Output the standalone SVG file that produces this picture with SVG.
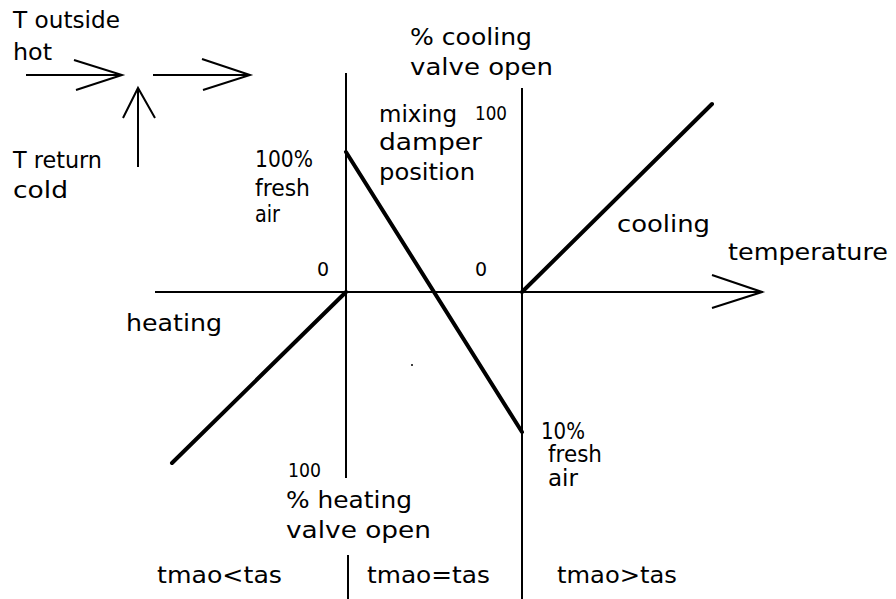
<svg xmlns="http://www.w3.org/2000/svg" width="896" height="599" viewBox="0 0 896 599">
<style>
text{font-family:"DejaVu Sans","Liberation Sans",sans-serif;font-size:23px;fill:#000}
.n{font-size:19px}
.thin{stroke:#000;stroke-width:2;fill:none}
.thick{stroke:#000;stroke-width:4;fill:none;stroke-linecap:round}
</style>
<rect width="896" height="599" fill="#fff"/>
<g id="inset">
<text x="13" y="28" textLength="107" lengthAdjust="spacingAndGlyphs">T outside</text>
<text x="13" y="60" textLength="39" lengthAdjust="spacingAndGlyphs">hot</text>
<text x="13" y="168" textLength="89" lengthAdjust="spacingAndGlyphs">T return</text>
<text x="13" y="198" textLength="55" lengthAdjust="spacingAndGlyphs">cold</text>
<path class="thin" d="M26 75H122M74 60L122 75L76 90"/>
<path class="thin" d="M153 75H250M202 59L250 75L203 90"/>
<path class="thin" d="M138 167V88M123 118L138 88L155 118"/>
</g>
<g id="connectors">
<path class="thin" d="M155 292H762M712 275L762 292L712 308"/>
<path class="thin" d="M346 73V478"/>
<path class="thin" d="M348 555V599"/>
<path class="thin" d="M522 88V599"/>
<path class="thick" d="M346 292L172 463"/>
<path class="thick" d="M346 152L522 432"/>
<path class="thick" d="M522 292L712 104"/>
<circle cx="412" cy="365" r="1" fill="#000"/>
</g>
<g id="labels">
<text x="410" y="45" textLength="122" lengthAdjust="spacingAndGlyphs">% cooling</text>
<text x="410" y="75" textLength="143" lengthAdjust="spacingAndGlyphs">valve open</text>
<text x="379" y="122" textLength="78" lengthAdjust="spacingAndGlyphs">mixing</text>
<text class="n" x="475" y="120" textLength="32" lengthAdjust="spacingAndGlyphs">100</text>
<text x="379" y="150" textLength="103" lengthAdjust="spacingAndGlyphs">damper</text>
<text x="379" y="180" textLength="96" lengthAdjust="spacingAndGlyphs">position</text>
<text x="255" y="167" textLength="58" lengthAdjust="spacingAndGlyphs">100%</text>
<text x="255" y="196" textLength="55" lengthAdjust="spacingAndGlyphs">fresh</text>
<text x="255" y="222" textLength="25" lengthAdjust="spacingAndGlyphs">air</text>
<text class="n" x="317" y="276">0</text>
<text class="n" x="475" y="276">0</text>
<text x="126" y="331" textLength="96" lengthAdjust="spacingAndGlyphs">heating</text>
<text x="617" y="232" textLength="93" lengthAdjust="spacingAndGlyphs">cooling</text>
<text x="728" y="260" textLength="160" lengthAdjust="spacingAndGlyphs">temperature</text>
<text x="541" y="439" textLength="44" lengthAdjust="spacingAndGlyphs">10%</text>
<text x="548" y="462" textLength="54" lengthAdjust="spacingAndGlyphs">fresh</text>
<text x="548" y="486" textLength="30" lengthAdjust="spacingAndGlyphs">air</text>
<text class="n" x="288" y="477" textLength="33" lengthAdjust="spacingAndGlyphs">100</text>
<text x="286" y="508" textLength="126" lengthAdjust="spacingAndGlyphs">% heating</text>
<text x="286" y="538" textLength="145" lengthAdjust="spacingAndGlyphs">valve open</text>
<text x="157" y="583" textLength="125" lengthAdjust="spacingAndGlyphs">tmao&lt;tas</text>
<text x="367" y="583" textLength="123" lengthAdjust="spacingAndGlyphs">tmao=tas</text>
<text x="557" y="583" textLength="120" lengthAdjust="spacingAndGlyphs">tmao&gt;tas</text>
</g>
</svg>
